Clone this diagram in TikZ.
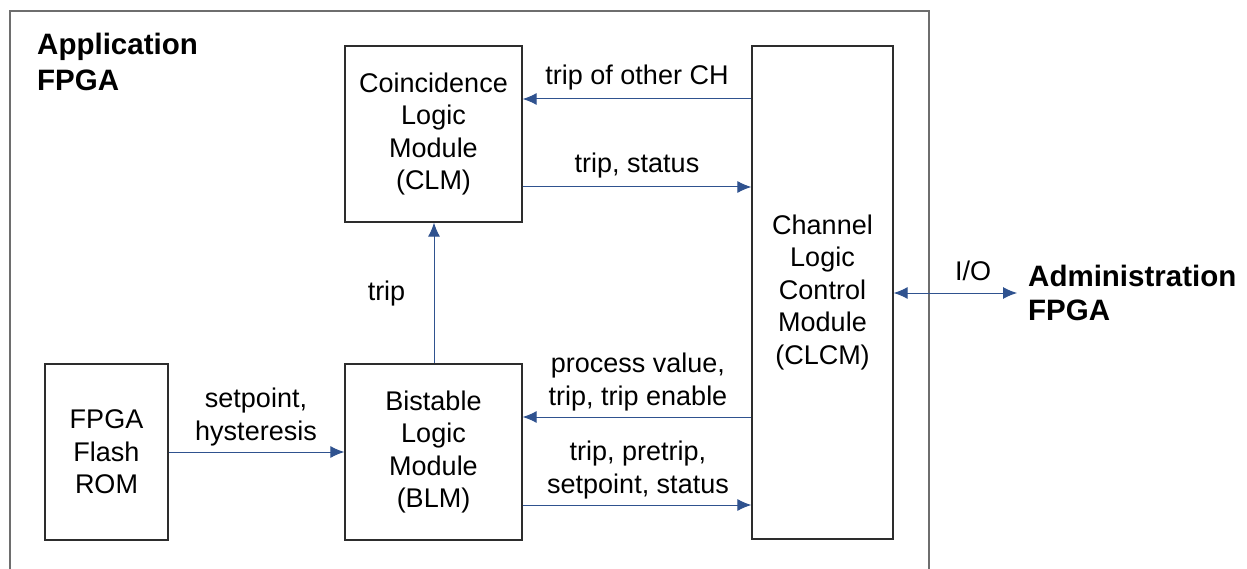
\documentclass[tikz,border=0pt]{standalone}
\usepackage{fontspec}
\setmainfont{Liberation Sans}
\usetikzlibrary{arrows.meta}
\definecolor{arrowblue}{RGB}{47,82,143}
\definecolor{framegray}{RGB}{110,110,110}
\definecolor{boxline}{RGB}{45,45,45}
\tikzset{
  modbox/.style={draw=boxline, line width=1.3pt, align=center, inner sep=0pt,
    font=\fontsize{27}{32.5}\selectfont},
  lbl/.style={align=center, anchor=base, inner sep=0pt,
    font=\fontsize{27}{32.5}\selectfont},
  arr/.style={draw=arrowblue, line width=1pt, -{Latex[length=14pt,width=12pt]}},
  biarr/.style={draw=arrowblue, line width=1pt, {Latex[length=14pt,width=12pt]}-{Latex[length=14pt,width=12pt]}},
  frame/.style={draw=framegray, line width=2pt}
}
\begin{document}
\begin{tikzpicture}[x=1pt,y=-1pt]
\useasboundingbox (0,0) rectangle (1247,569);
\fill[white] (0,0) rectangle (1247,569);
% outer frame (bottom edge lies below the picture)
\draw[frame] (10,600) -- (10,11) -- (929,11) -- (929,600);
\node[anchor=base west, align=left, inner sep=0pt, font=\fontsize{29.5}{36}\selectfont\bfseries] (appl) at (37,91) {Application\\FPGA};

% modules
\node[modbox, minimum width=177pt, minimum height=176pt] (clm) at (433.5,134) {Coincidence\\Logic\\Module\\(CLM)};
\node[modbox, minimum width=177pt, minimum height=176pt] (blm) at (433.5,452) {Bistable\\Logic\\Module\\(BLM)};
\node[modbox, minimum width=123pt, minimum height=176pt] (rom) at (106.5,452) {FPGA\\Flash\\ROM};
\node[modbox, minimum width=141pt, minimum height=493pt] (clcm) at (822.5,292.5) {Channel\\Logic\\Control\\Module\\(CLCM)};

% administration FPGA
\node[anchor=base west, align=left, inner sep=0pt, font=\fontsize{29.5}{33.5}\selectfont\bfseries] (admin) at (1028,320) {Administration\\FPGA};
\coordinate (adminin) at (1017,293);

% connectors
\draw[arr] (clcm.west |- 0,99) -- (clm.east |- 0,99);
\draw[arr] (clm.east |- 0,187) -- (clcm.west |- 0,187);
\draw[arr] (blm.north -| 434,0) -- (clm.south -| 434,0);
\draw[arr] (rom.east |- 0,452) -- (blm.west |- 0,452);
\draw[arr] (clcm.west |- 0,417) -- (blm.east |- 0,417);
\draw[arr] (blm.east |- 0,505) -- (clcm.west |- 0,505);
\draw[biarr] (clcm.east |- 0,293) -- (adminin);

% labels
\node[lbl] (l1) at (637,85) {trip of other CH};
\node[lbl] (l2) at (637,173) {trip, status};
\node[lbl] (l3) at (386.5,300) {trip};
\node[lbl] (l4) at (256,440) {setpoint,\\hysteresis};
\node[lbl] (l5) at (638,405) {process value,\\trip, trip enable};
\node[lbl] (l6) at (638,493) {trip, pretrip,\\setpoint, status};
\node[lbl] (l7) at (973,280) {I/O};
\end{tikzpicture}
\end{document}
